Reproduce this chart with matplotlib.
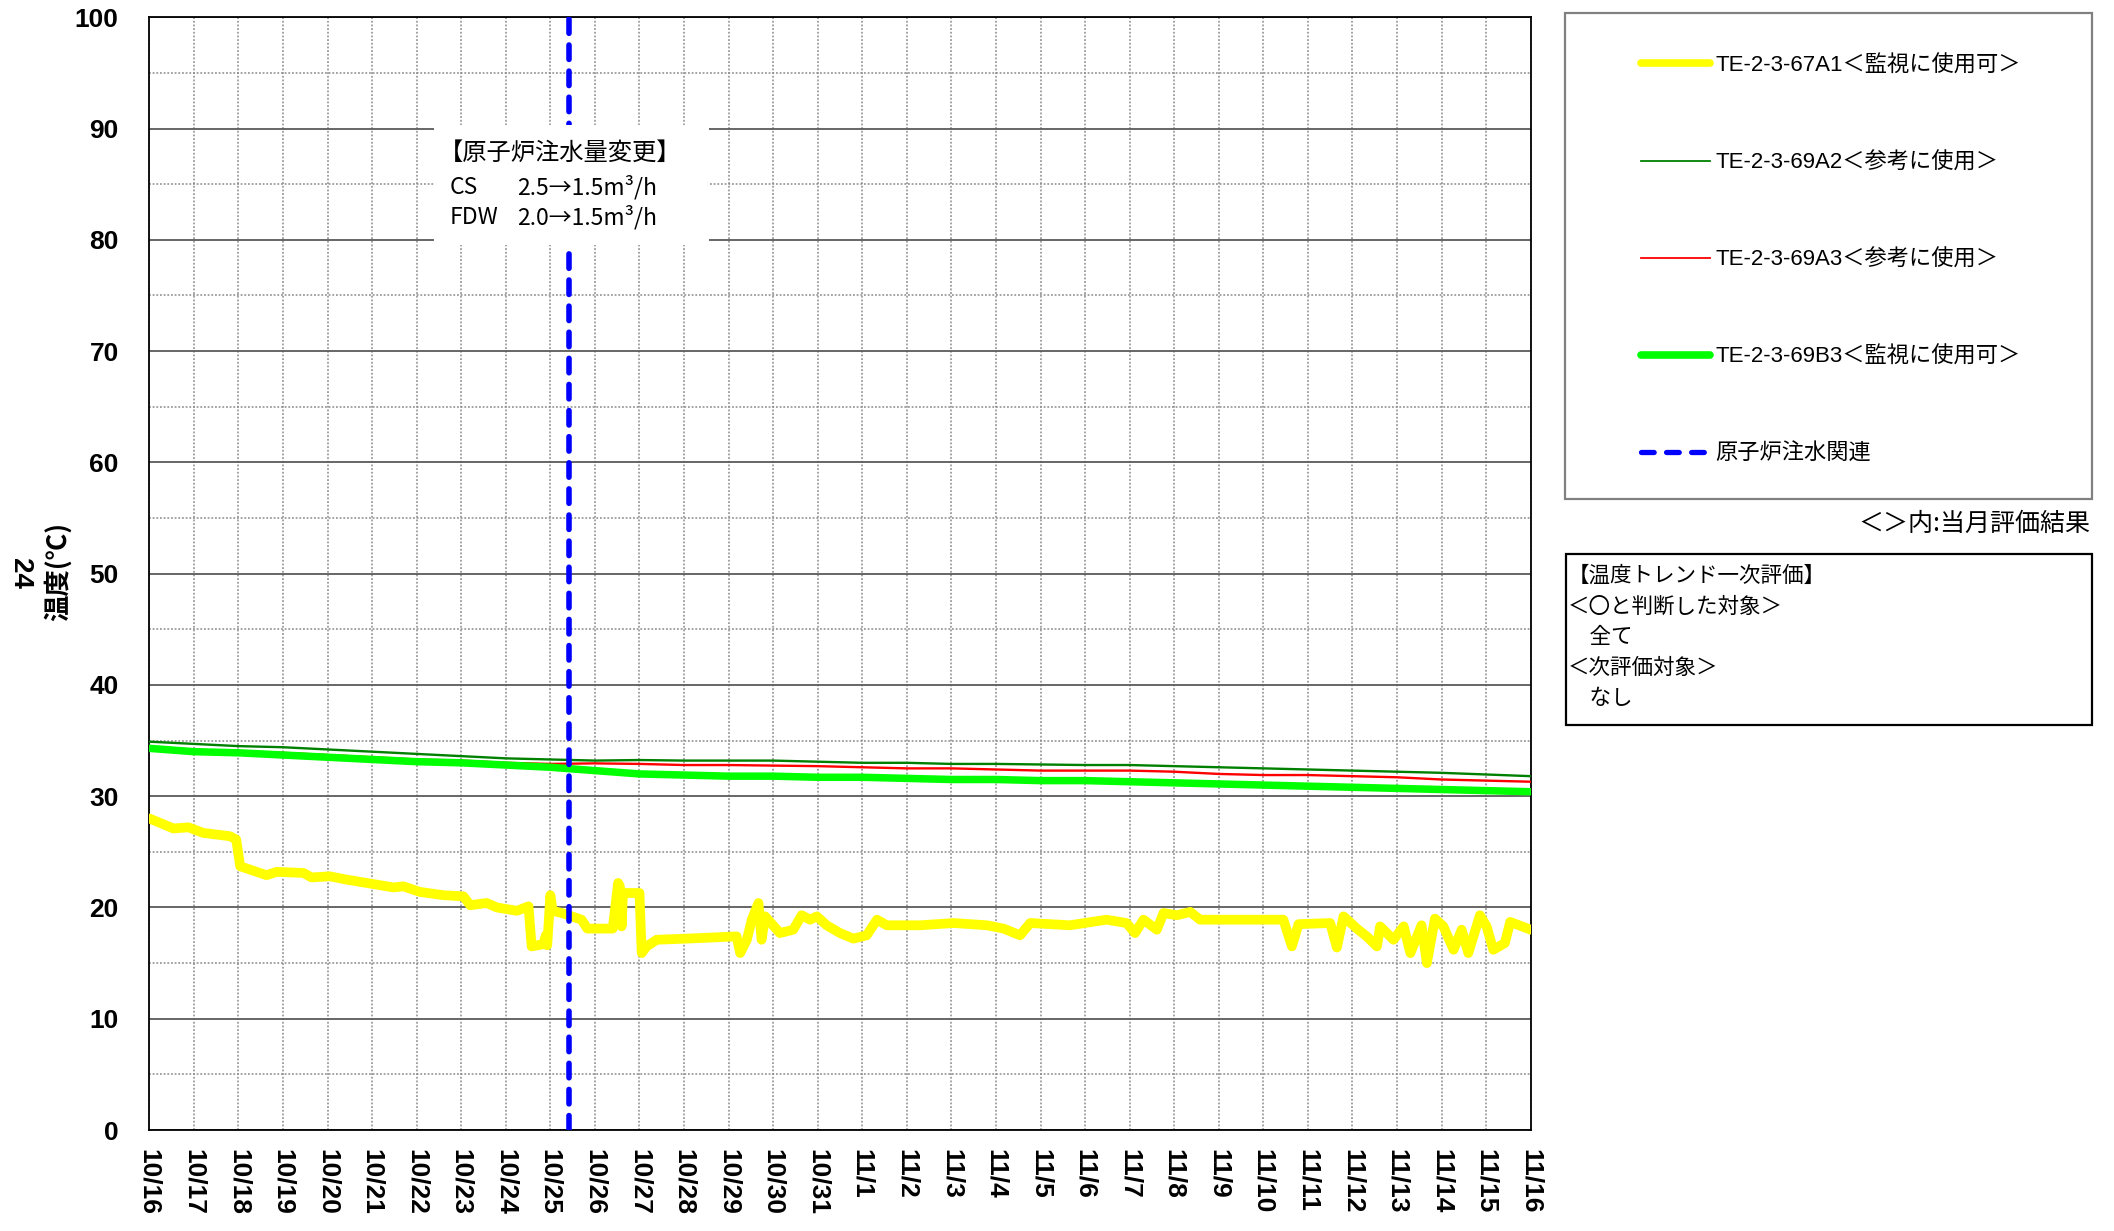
import matplotlib
matplotlib.use("Agg")
import matplotlib.pyplot as plt
from matplotlib.lines import Line2D
from matplotlib.patches import Rectangle

plt.rcParams['font.family'] = ['Liberation Sans', 'Noto Sans CJK JP', 'DejaVu Sans']
CJK = ['Noto Sans CJK JP', 'DejaVu Sans']

# ---- data (elapsed days from 10/16 0:00, temperature in deg C) ----
tick_labels = ['10/16', '10/17', '10/18', '10/19', '10/20', '10/21', '10/22', '10/23',
               '10/24', '10/25', '10/26', '10/27', '10/28', '10/29', '10/30', '10/31',
               '11/1', '11/2', '11/3', '11/4', '11/5', '11/6', '11/7', '11/8', '11/9',
               '11/10', '11/11', '11/12', '11/13', '11/14', '11/15', '11/16']

a1_days = [0.0, 0.3, 0.54, 0.88, 1.21, 1.81, 1.95, 2.04, 2.41, 2.63, 2.86, 3.46, 3.64, 4.05,
           4.43, 5.03, 5.48, 5.7, 6.07, 6.6, 7.05, 7.2, 7.57, 7.8, 8.25, 8.51, 8.58, 8.84,
           8.9, 8.93, 9.0, 9.05, 9.26, 9.7, 9.83, 10.4, 10.52, 10.56, 10.6, 10.63, 11.0,
           11.05, 11.16, 11.39, 12.06, 13.18, 13.26, 13.41, 13.52, 13.67, 13.74, 13.82,
           14.15, 14.45, 14.64, 14.83, 14.98, 15.2, 15.5, 15.8, 16.1, 16.33, 16.55, 17.3,
           18.05, 18.79, 19.17, 19.54, 19.77, 20.66, 21.48, 21.93, 22.12, 22.31, 22.61,
           22.76, 23.06, 23.36, 23.58, 24.55, 25.45, 25.64, 25.79, 26.5, 26.65, 26.8, 27.1,
           27.32, 27.55, 27.62, 27.92, 28.15, 28.3, 28.55, 28.67, 28.85, 29.04, 29.27,
           29.45, 29.6, 29.86, 30.01, 30.16, 30.42, 30.54, 31.0]
a1_vals = [28.0, 27.5, 27.1, 27.2, 26.7, 26.4, 26.1, 23.7, 23.2, 22.9, 23.2, 23.1, 22.7, 22.8,
           22.5, 22.1, 21.8, 21.9, 21.4, 21.1, 21.0, 20.2, 20.4, 20.0, 19.7, 20.1, 16.5, 16.7,
           17.5, 16.6, 21.1, 19.7, 19.5, 18.9, 18.1, 18.1, 22.2, 21.9, 18.3, 21.3, 21.3,
           15.9, 16.5, 17.1, 17.2, 17.4, 15.9, 17.1, 18.9, 20.4, 17.1, 19.2,
           17.7, 18.0, 19.3, 18.9, 19.2, 18.4, 17.7, 17.2, 17.5, 18.9, 18.4, 18.4,
           18.6, 18.4, 18.1, 17.5, 18.6, 18.4, 18.9, 18.6, 17.7, 18.9, 18.0,
           19.5, 19.3, 19.6, 18.9, 18.9, 18.9, 16.5, 18.5, 18.6, 16.4, 19.2, 18.1,
           17.4, 16.5, 18.3, 17.1, 18.3, 15.9, 18.4, 15.0, 19.0, 18.3, 16.2,
           18.0, 15.9, 19.3, 18.3, 16.2, 16.8, 18.7, 18.0]

day_grid = list(range(0, 32))
a2_vals = [34.9, 34.7, 34.5, 34.4, 34.2, 34.0, 33.8, 33.6, 33.4, 33.3, 33.2, 33.25, 33.2, 33.2,
           33.2, 33.1, 33.0, 33.0, 32.9, 32.9, 32.85, 32.8, 32.8, 32.7, 32.6, 32.5, 32.4,
           32.3, 32.2, 32.1, 31.95, 31.8]
a3_vals = [34.4, 34.2, 34.0, 33.9, 33.7, 33.5, 33.3, 33.2, 33.0, 32.9, 32.95, 32.9, 32.8,
           32.8, 32.75, 32.7, 32.6, 32.5, 32.5, 32.4, 32.3, 32.3, 32.3, 32.2, 32.0, 31.9,
           31.9, 31.8, 31.7, 31.5, 31.4, 31.3]
b3_vals = [34.3, 34.0, 33.9, 33.7, 33.5, 33.3, 33.1, 33.0, 32.8, 32.6, 32.3, 32.0, 31.9, 31.8,
           31.8, 31.7, 31.7, 31.6, 31.5, 31.5, 31.4, 31.4, 31.3, 31.2, 31.1, 31.0, 30.9,
           30.8, 30.7, 30.6, 30.5, 30.4]

injection_change_day = 9.42

series_names = ['TE-2-3-67A1＜監視に使用可＞', 'TE-2-3-69A2＜参考に使用＞',
                'TE-2-3-69A3＜参考に使用＞', 'TE-2-3-69B3＜監視に使用可＞', '原子炉注水関連']

# ---- figure ----
W, H = 2114, 1231
fig = plt.figure(figsize=(W / 100, H / 100), dpi=100)
L, R, T, B = 149.3, 1530.7, 17.3, 1130.0
ax = fig.add_axes([L / W, 1 - B / H, (R - L) / W, (B - T) / H])

ax.set_xlim(0, 31)
ax.set_ylim(0, 100)

# grid
ax.set_xticks(range(0, 32))
ax.set_yticks(range(0, 101, 10))
ax.set_yticks(range(5, 100, 10), minor=True)
ax.grid(axis='x', which='major', color='#8a8a8a', linestyle=(0, (1.2, 1.2)), linewidth=1.1)
ax.grid(axis='y', which='major', color='#5a5a5a', linestyle='-', linewidth=1.3)
ax.grid(axis='y', which='minor', color='#8a8a8a', linestyle=(0, (1.2, 1.2)), linewidth=1.1)
ax.set_axisbelow(True)

ax.set_xticklabels(tick_labels, rotation=270, fontsize=19, fontweight='bold', va='top', ha='center')
ax.tick_params(axis='x', which='both', length=0, pad=14)
ax.tick_params(axis='y', which='both', length=0, pad=22, labelsize=19)
for lbl in ax.get_yticklabels():
    lbl.set_fontweight('bold')
for s in ax.spines.values():
    s.set_color('black')
    s.set_linewidth(1.3)

# series
h1, = ax.plot(a1_days, a1_vals, color='#ffff00', lw=7.0, solid_joinstyle='round',
              solid_capstyle='round', zorder=3)
h2, = ax.plot(day_grid, a2_vals, color='#008000', lw=1.7, zorder=3)
h3, = ax.plot(day_grid, a3_vals, color='#ff0000', lw=1.7, zorder=3)
h4, = ax.plot(day_grid, b3_vals, color='#00ff00', lw=5.4, solid_joinstyle='round', zorder=3)
h5 = ax.axvline(injection_change_day, color='#0000ff', lw=4.0, linestyle=(0, (2.6, 2.1)),
                dash_capstyle='round', zorder=4)

# annotation box
ax.add_patch(Rectangle((6.4, 79.5), 6.15, 10.8, facecolor='white', edgecolor='none', zorder=5))
ax.text(6.5, 87.8, '【原子炉注水量変更】', fontsize=17.5, family=CJK, va='center', ha='left', zorder=6)
ax.text(6.75, 84.7, 'CS', fontsize=16.5, family=CJK, va='center', ha='left', zorder=6)
ax.text(8.25, 84.7, '2.5→1.5m³/h', fontsize=16.5, family=CJK, va='center', ha='left', zorder=6)
ax.text(6.75, 82.0, 'FDW', fontsize=16.5, family=CJK, va='center', ha='left', zorder=6)
ax.text(8.25, 82.0, '2.0→1.5m³/h', fontsize=16.5, family=CJK, va='center', ha='left', zorder=6)

# axis label texts
fig.text(20 / W, 1 - 573 / H, '24', rotation=270, fontsize=20, fontweight='bold',
         ha='center', va='center')
fig.text(58 / W, 1 - 571 / H, '温度(℃)', rotation=90, fontsize=19, fontweight='bold',
         family=CJK, ha='center', va='center')

# legend
lx0, ly0, lx1, ly1 = 1565, 13, 2092, 499
fig.add_artist(Rectangle((lx0 / W, 1 - ly1 / H), (lx1 - lx0) / W, (ly1 - ly0) / H,
                         transform=fig.transFigure, fill=False, edgecolor='#808080', lw=1.6))
leg_handles = [
    Line2D([], [], color='#ffff00', lw=5.5, solid_capstyle='round'),
    Line2D([], [], color='#008000', lw=1.3),
    Line2D([], [], color='#ff0000', lw=1.3),
    Line2D([], [], color='#00ff00', lw=5.5, solid_capstyle='round'),
    Line2D([], [], color='#0000ff', lw=3.8, linestyle=(0, (2.4, 2.35)), dash_capstyle='round'),
]
fig.legend(leg_handles, series_names, loc='upper left',
           bbox_to_anchor=(1641 / W, 1 - 55 / H), frameon=False, fontsize=16,
           handlelength=3.1, handletextpad=0.25, labelspacing=3.42, borderpad=0,
           borderaxespad=0)

fig.text(2090 / W, 1 - 524 / H, '＜＞内:当月評価結果', fontsize=18, family=CJK,
         ha='right', va='center')

ex0, ey0, ex1, ey1 = 1566, 554, 2092, 725
fig.add_artist(Rectangle((ex0 / W, 1 - ey1 / H), (ex1 - ex0) / W, (ey1 - ey0) / H,
                         transform=fig.transFigure, fill=False, edgecolor='black', lw=1.6))
eval_lines = ['【温度トレンド一次評価】', '＜〇と判断した対象＞', '　全て', '＜次評価対象＞', '　なし']
for i, t in enumerate(eval_lines):
    fig.text(1568 / W, 1 - (576 + 30.6 * i) / H, t, fontsize=15.5, family=CJK,
             ha='left', va='center')

fig.savefig('out.png', dpi=100)
